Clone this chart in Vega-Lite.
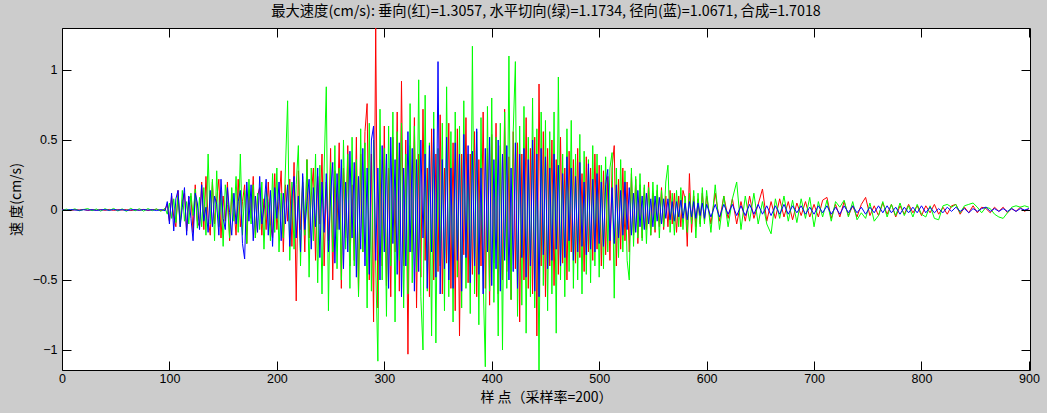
{
"$schema": "https://vega.github.io/schema/vega-lite/v6.json",
"width": 968, "height": 342,
"autosize": "none",
"padding": {"left": 62, "top": 28, "right": 17, "bottom": 43},
"background": "#cccccc",
"config": {
  "view": {"fill": "white", "stroke": "black", "strokeWidth": 1},
  "axis": {"grid": false, "domain": false, "offset": -9, "tickColor": "black", "tickSize": 9, "tickWidth": 1, "tickOpacity": 1,
           "labelColor": "black", "labelFont": "Liberation Sans Narrow, Liberation Sans", "labelFontSize": 12.5,
           "titleColor": "black", "titleFont": "Noto Sans CJK SC", "titleFontSize": 14, "titleFontWeight": "normal"}
},
"title": {"text": "最大速度(cm/s): 垂向(红)=1.3057, 水平切向(绿)=1.1734, 径向(蓝)=1.0671, 合成=1.7018",
          "font": "Liberation Sans Narrow, Noto Sans CJK SC", "fontSize": 14.3, "fontWeight": "normal", "color": "black", "anchor": "middle", "offset": 5},
"data": {"values": [
{"x":0,"r":0.003,"g":-0.004,"b":0.001},{"x":4,"r":0.001,"g":0.006,"b":-0.002},{"x":8,"r":-0.004,"g":-0.002,"b":0.003},{"x":12,"r":0.002,"g":0.008,"b":0.0},
{"x":16,"r":0.0,"g":-0.006,"b":-0.002},{"x":20,"r":0.004,"g":0.003,"b":0.002},{"x":24,"r":-0.003,"g":0.01,"b":-0.001},{"x":28,"r":0.002,"g":-0.005,"b":0.002},
{"x":32,"r":-0.001,"g":0.007,"b":-0.003},{"x":36,"r":0.003,"g":-0.008,"b":0.001},{"x":40,"r":-0.002,"g":0.009,"b":0.002},{"x":44,"r":0.004,"g":-0.004,"b":-0.002},
{"x":48,"r":-0.003,"g":0.011,"b":0.003},{"x":52,"r":0.002,"g":-0.007,"b":-0.001},{"x":56,"r":0.0,"g":0.008,"b":0.002},{"x":60,"r":0.003,"g":-0.01,"b":-0.003},
{"x":64,"r":-0.004,"g":0.012,"b":0.001},{"x":68,"r":0.002,"g":-0.006,"b":0.002},{"x":72,"r":-0.001,"g":0.009,"b":-0.002},{"x":76,"r":0.004,"g":-0.008,"b":0.003},
{"x":80,"r":-0.003,"g":0.01,"b":-0.001},{"x":84,"r":0.002,"g":-0.005,"b":0.002},{"x":88,"r":0.005,"g":0.008,"b":-0.004},{"x":92,"r":-0.004,"g":-0.009,"b":0.003},
{"x":96,"r":0.006,"g":0.012,"b":-0.005},
{"x":98,"r":0.04,"g":-0.03,"b":0.06},{"x":100,"r":-0.08,"g":0.05,"b":-0.1},{"x":102,"r":0.1,"g":-0.06,"b":0.12},{"x":104,"r":-0.05,"g":0.08,"b":-0.15},
{"x":106,"r":-0.12,"g":-0.09,"b":0.08},{"x":108,"r":0.14,"g":0.1,"b":0.14},{"x":110,"r":-0.1,"g":-0.12,"b":-0.12},{"x":112,"r":0.06,"g":0.14,"b":0.02},
{"x":114,"r":0.12,"g":-0.08,"b":0.16},{"x":116,"r":-0.15,"g":0.06,"b":-0.18},{"x":118,"r":0.08,"g":-0.1,"b":0.1},{"x":120,"r":0.1,"g":0.12,"b":-0.06},
{"x":122,"r":-0.16,"g":-0.04,"b":-0.22},{"x":124,"r":0.18,"g":0.15,"b":0.12},{"x":126,"r":-0.08,"g":-0.13,"b":0.05},{"x":128,"r":-0.12,"g":0.09,"b":-0.14},
{"x":130,"r":0.2,"g":-0.12,"b":0.18},{"x":132,"r":-0.14,"g":0.16,"b":-0.08},{"x":134,"r":0.24,"g":-0.18,"b":0.02},{"x":136,"r":-0.06,"g":0.4,"b":-0.16},
{"x":138,"r":-0.18,"g":-0.1,"b":0.14},{"x":140,"r":0.2,"g":0.22,"b":-0.12},{"x":142,"r":-0.1,"g":-0.22,"b":0.1},{"x":144,"r":0.08,"g":0.28,"b":0.04},
{"x":146,"r":0.22,"g":-0.12,"b":-0.18},{"x":148,"r":-0.2,"g":0.14,"b":0.22},{"x":150,"r":0.1,"g":-0.26,"b":-0.06},{"x":152,"r":-0.08,"g":0.18,"b":-0.14},
{"x":154,"r":0.2,"g":0.04,"b":0.16},{"x":156,"r":-0.22,"g":-0.2,"b":-0.02},{"x":158,"r":0.12,"g":0.16,"b":-0.18},{"x":160,"r":0.02,"g":-0.08,"b":0.12},
{"x":162,"r":-0.18,"g":0.24,"b":-0.1},{"x":164,"r":0.22,"g":-0.16,"b":0.06},{"x":166,"r":-0.12,"g":0.4,"b":0.14},{"x":168,"r":0.06,"g":-0.18,"b":-0.24},
{"x":170,"r":0.18,"g":0.14,"b":-0.35},{"x":172,"r":-0.24,"g":-0.24,"b":0.2},{"x":174,"r":0.14,"g":0.22,"b":-0.08},{"x":176,"r":-0.06,"g":-0.1,"b":0.18},
{"x":178,"r":0.24,"g":0.18,"b":-0.22},{"x":180,"r":-0.2,"g":-0.2,"b":0.1},{"x":182,"r":0.1,"g":0.12,"b":-0.16},{"x":184,"r":0.16,"g":-0.14,"b":0.24},
{"x":186,"r":-0.18,"g":0.2,"b":-0.1},{"x":188,"r":0.08,"g":-0.28,"b":0.02},{"x":190,"r":-0.14,"g":0.14,"b":0.22},{"x":192,"r":0.2,"g":0.06,"b":-0.18},
{"x":194,"r":-0.1,"g":-0.22,"b":0.14},{"x":196,"r":-0.2,"g":0.26,"b":-0.26},{"x":198,"r":0.26,"g":-0.16,"b":0.16},{"x":200,"r":-0.14,"g":0.3,"b":-0.06},
{"x":202,"r":0.06,"g":-0.3,"b":0.2},{"x":204,"r":0.28,"g":0.12,"b":-0.22},{"x":206,"r":-0.3,"g":-0.2,"b":0.12},{"x":208,"r":0.18,"g":0.3,"b":-0.1},
{"x":210,"r":-0.08,"g":0.78,"b":0.18},{"x":212,"r":0.22,"g":-0.36,"b":-0.26},{"x":214,"r":-0.26,"g":0.2,"b":0.08},{"x":216,"r":0.34,"g":-0.28,"b":0.24},
{"x":218,"r":-0.65,"g":0.18,"b":-0.2},{"x":220,"r":0.28,"g":0.46,"b":0.1},{"x":222,"r":-0.14,"g":-0.4,"b":-0.3},{"x":224,"r":0.2,"g":0.24,"b":0.26},
{"x":226,"r":-0.3,"g":-0.18,"b":-0.14},{"x":228,"r":0.36,"g":0.36,"b":0.06},{"x":230,"r":-0.2,"g":-0.48,"b":0.22},{"x":232,"r":0.1,"g":0.3,"b":-0.28},
{"x":234,"r":0.3,"g":-0.22,"b":0.16},{"x":236,"r":-0.36,"g":0.4,"b":-0.12},{"x":238,"r":0.24,"g":-0.52,"b":0.3},{"x":240,"r":-0.1,"g":0.32,"b":-0.34},
{"x":242,"r":0.4,"g":-0.6,"b":0.2},{"x":244,"r":-0.4,"g":0.3,"b":-0.16},{"x":246,"r":0.2,"g":0.88,"b":0.26},{"x":248,"r":-0.22,"g":-0.72,"b":-0.3},
{"x":250,"r":0.44,"g":0.34,"b":0.1},{"x":252,"r":-0.5,"g":-0.3,"b":0.34},{"x":254,"r":0.28,"g":0.46,"b":-0.38},{"x":256,"r":-0.14,"g":-0.42,"b":0.26},
{"x":258,"r":0.48,"g":0.3,"b":-0.14},{"x":260,"r":-0.56,"g":-0.5,"b":0.36},{"x":262,"r":0.3,"g":0.5,"b":-0.42},{"x":264,"r":-0.2,"g":-0.28,"b":0.2},
{"x":266,"r":0.46,"g":0.4,"b":-0.3},{"x":268,"r":-0.4,"g":-0.56,"b":0.42},{"x":270,"r":0.18,"g":0.52,"b":-0.2},{"x":272,"r":-0.36,"g":-0.4,"b":0.34},
{"x":274,"r":0.52,"g":0.36,"b":-0.48},{"x":276,"r":-0.6,"g":-0.62,"b":0.24},{"x":278,"r":0.4,"g":0.58,"b":-0.28},{"x":280,"r":-0.3,"g":-0.3,"b":0.44},
{"x":282,"r":0.56,"g":0.48,"b":-0.4},{"x":284,"r":0.76,"g":-0.7,"b":0.3},{"x":286,"r":-0.5,"g":0.62,"b":-0.46},{"x":288,"r":0.4,"g":-0.58,"b":0.5},
{"x":290,"r":-0.8,"g":0.5,"b":0.6},{"x":292,"r":1.31,"g":-0.4,"b":-0.36},{"x":294,"r":-0.7,"g":-1.08,"b":0.3},{"x":296,"r":0.36,"g":0.72,"b":-0.5},
{"x":298,"r":-0.4,"g":-0.5,"b":0.46},{"x":300,"r":0.6,"g":0.44,"b":-0.3},{"x":302,"r":-0.54,"g":-0.76,"b":0.4},{"x":304,"r":0.3,"g":0.6,"b":-0.56},
{"x":306,"r":-0.62,"g":-0.4,"b":0.52},{"x":308,"r":0.52,"g":0.7,"b":-0.24},{"x":310,"r":-0.3,"g":-0.8,"b":0.36},{"x":312,"r":0.7,"g":0.56,"b":-0.46},
{"x":314,"r":-0.58,"g":-0.36,"b":0.48},{"x":316,"r":0.92,"g":0.62,"b":-0.62},{"x":318,"r":-0.4,"g":-0.7,"b":0.3},{"x":320,"r":0.5,"g":0.4,"b":-0.4},
{"x":322,"r":-1.03,"g":-0.6,"b":0.56},{"x":324,"r":0.46,"g":0.76,"b":-0.3},{"x":326,"r":-0.3,"g":-0.52,"b":0.44},{"x":328,"r":0.66,"g":0.6,"b":-0.58},
{"x":330,"r":-0.7,"g":-0.44,"b":0.36},{"x":332,"r":0.4,"g":0.93,"b":-0.44},{"x":334,"r":-0.48,"g":-0.62,"b":0.5},{"x":336,"r":0.72,"g":-1.0,"b":-0.2},
{"x":338,"r":-0.36,"g":0.82,"b":0.4},{"x":340,"r":0.3,"g":-0.58,"b":-0.56},{"x":342,"r":-0.62,"g":0.48,"b":0.46},{"x":344,"r":0.58,"g":-0.9,"b":-0.3},
{"x":346,"r":-0.5,"g":0.7,"b":0.58},{"x":348,"r":0.4,"g":-0.95,"b":-0.48},{"x":350,"r":-0.44,"g":0.44,"b":1.06},{"x":352,"r":0.68,"g":-0.4,"b":-0.6},
{"x":354,"r":-0.6,"g":0.62,"b":0.36},{"x":356,"r":0.3,"g":-0.72,"b":-0.42},{"x":358,"r":-0.38,"g":0.88,"b":0.52},{"x":360,"r":0.62,"g":-0.62,"b":-0.5},
{"x":362,"r":-0.56,"g":0.56,"b":0.3},{"x":364,"r":0.48,"g":-0.8,"b":-0.56},{"x":366,"r":-0.72,"g":0.7,"b":0.48},{"x":368,"r":0.58,"g":-0.48,"b":-0.36},
{"x":370,"r":-0.9,"g":0.6,"b":0.4},{"x":372,"r":0.4,"g":-0.7,"b":-0.58},{"x":374,"r":-0.32,"g":0.78,"b":0.54},{"x":376,"r":0.66,"g":-0.56,"b":-0.34},
{"x":378,"r":-0.52,"g":0.4,"b":0.46},{"x":380,"r":0.4,"g":-0.74,"b":-0.52},{"x":382,"r":-0.46,"g":1.17,"b":0.42},{"x":384,"r":0.56,"g":-0.6,"b":-0.4},
{"x":386,"r":-0.62,"g":0.56,"b":0.58},{"x":388,"r":0.36,"g":-0.82,"b":-0.46},{"x":390,"r":-0.4,"g":0.66,"b":0.3},{"x":392,"r":0.7,"g":-0.5,"b":-0.6},
{"x":394,"r":-0.56,"g":-1.12,"b":0.44},{"x":396,"r":0.44,"g":0.74,"b":-0.3},{"x":398,"r":-0.68,"g":-0.58,"b":0.52},{"x":400,"r":0.54,"g":0.8,"b":-0.54},
{"x":402,"r":-0.38,"g":-0.66,"b":0.36},{"x":404,"r":0.62,"g":0.52,"b":-0.42},{"x":406,"r":-0.6,"g":-0.9,"b":0.5},{"x":408,"r":0.46,"g":0.62,"b":-0.58},
{"x":410,"r":-0.5,"g":-1.0,"b":0.4},{"x":412,"r":0.72,"g":0.7,"b":-0.36},{"x":414,"r":-0.44,"g":-0.56,"b":0.46},{"x":416,"r":0.38,"g":1.1,"b":-0.5},
{"x":418,"r":-0.64,"g":-0.64,"b":0.3},{"x":420,"r":0.56,"g":0.56,"b":-0.44},{"x":422,"r":-0.42,"g":1.06,"b":0.48},{"x":424,"r":0.48,"g":-0.76,"b":-0.56},
{"x":426,"r":-0.8,"g":0.6,"b":0.4},{"x":428,"r":0.4,"g":-0.68,"b":-0.34},{"x":430,"r":-0.5,"g":0.74,"b":0.44},{"x":432,"r":0.66,"g":-0.88,"b":-0.48},
{"x":434,"r":-0.56,"g":0.52,"b":0.36},{"x":436,"r":0.44,"g":-0.62,"b":-0.4},{"x":438,"r":-0.6,"g":0.8,"b":0.5},{"x":440,"r":0.52,"g":-0.7,"b":-0.58},
{"x":442,"r":-0.9,"g":0.58,"b":0.4},{"x":444,"r":0.9,"g":-1.17,"b":-0.62},{"x":446,"r":-0.4,"g":0.7,"b":0.44},{"x":448,"r":0.56,"g":-0.54,"b":-0.32},
{"x":450,"r":-0.62,"g":0.64,"b":0.38},{"x":452,"r":0.44,"g":-0.72,"b":-0.42},{"x":454,"r":-0.4,"g":0.56,"b":0.3},{"x":456,"r":0.5,"g":-0.6,"b":-0.36},
{"x":458,"r":-0.54,"g":0.7,"b":0.4},{"x":460,"r":0.36,"g":-0.88,"b":-0.28},{"x":462,"r":-0.46,"g":0.95,"b":0.32},{"x":464,"r":0.52,"g":-0.5,"b":-0.4},
{"x":466,"r":-0.38,"g":0.4,"b":0.26},{"x":468,"r":0.3,"g":-0.62,"b":-0.34},{"x":470,"r":-0.5,"g":0.58,"b":0.38},{"x":472,"r":0.42,"g":-0.44,"b":-0.22},
{"x":474,"r":-0.3,"g":0.64,"b":0.3},{"x":476,"r":0.36,"g":-0.56,"b":-0.36},{"x":478,"r":-0.38,"g":0.4,"b":0.24},{"x":480,"r":0.44,"g":-0.5,"b":-0.3},
{"x":482,"r":-0.34,"g":0.54,"b":0.34},{"x":484,"r":0.26,"g":-0.6,"b":-0.26},{"x":486,"r":-0.44,"g":0.42,"b":0.2},{"x":488,"r":0.38,"g":-0.46,"b":-0.32},
{"x":490,"r":-0.3,"g":0.36,"b":0.33},{"x":492,"r":0.3,"g":-0.52,"b":-0.28},{"x":494,"r":-0.36,"g":0.46,"b":0.22},{"x":496,"r":0.4,"g":-0.4,"b":-0.3},
{"x":498,"r":-0.28,"g":0.4,"b":0.26},{"x":500,"r":0.32,"g":-0.48,"b":-0.24},{"x":502,"r":-0.4,"g":0.32,"b":0.2},{"x":504,"r":0.28,"g":-0.42,"b":-0.26},
{"x":506,"r":-0.32,"g":0.38,"b":0.18},{"x":508,"r":0.24,"g":-0.3,"b":0.29},{"x":510,"r":-0.36,"g":0.3,"b":-0.22},{"x":512,"r":0.3,"g":0.41,"b":0.16},
{"x":514,"r":0.46,"g":-0.63,"b":-0.24},{"x":516,"r":-0.4,"g":0.3,"b":0.18},{"x":518,"r":0.22,"g":-0.34,"b":-0.2},{"x":520,"r":-0.28,"g":0.36,"b":0.14},
{"x":522,"r":0.3,"g":-0.3,"b":-0.18},{"x":524,"r":-0.22,"g":0.28,"b":0.2},{"x":526,"r":0.2,"g":-0.36,"b":-0.14},{"x":528,"r":-0.3,"g":-0.5,"b":0.16},
{"x":530,"r":0.26,"g":0.3,"b":-0.18},{"x":532,"r":-0.18,"g":-0.26,"b":0.12},{"x":534,"r":0.22,"g":0.24,"b":-0.16},{"x":536,"r":-0.24,"g":-0.2,"b":0.14},
{"x":538,"r":0.18,"g":0.26,"b":-0.12},{"x":540,"r":-0.2,"g":-0.22,"b":0.1},{"x":542,"r":0.16,"g":0.18,"b":-0.14},{"x":544,"r":-0.14,"g":-0.24,"b":0.12},
{"x":546,"r":0.2,"g":0.16,"b":-0.1},{"x":548,"r":-0.18,"g":-0.18,"b":0.08},{"x":550,"r":0.12,"g":0.2,"b":-0.12},{"x":552,"r":-0.16,"g":-0.14,"b":0.1},
{"x":554,"r":0.14,"g":0.18,"b":-0.08},{"x":556,"r":-0.12,"g":-0.2,"b":0.09},{"x":558,"r":0.16,"g":0.14,"b":-0.1},{"x":560,"r":-0.14,"g":-0.12,"b":0.08},
{"x":562,"r":0.1,"g":0.2,"b":-0.06},{"x":564,"r":-0.12,"g":0.32,"b":0.08},{"x":566,"r":0.14,"g":-0.16,"b":-0.07},{"x":568,"r":-0.1,"g":0.12,"b":0.06},
{"x":570,"r":0.12,"g":-0.18,"b":-0.08},{"x":572,"r":-0.16,"g":0.14,"b":0.06},{"x":574,"r":0.1,"g":-0.12,"b":-0.05},{"x":576,"r":-0.12,"g":0.16,"b":0.07},
{"x":578,"r":0.14,"g":-0.14,"b":-0.06},{"x":580,"r":0.08,"g":0.1,"b":0.05},{"x":582,"r":-0.26,"g":-0.16,"b":-0.07},{"x":584,"r":0.26,"g":0.12,"b":0.06},
{"x":586,"r":-0.16,"g":-0.1,"b":-0.05},{"x":588,"r":0.1,"g":0.14,"b":0.06},{"x":590,"r":-0.12,"g":-0.2,"b":-0.06},{"x":592,"r":0.08,"g":0.12,"b":0.05},
{"x":594,"r":-0.1,"g":-0.12,"b":-0.04},{"x":596,"r":0.12,"g":0.16,"b":0.05},{"x":598,"r":-0.08,"g":-0.1,"b":-0.06},{"x":600,"r":0.1,"g":0.14,"b":0.04},
{"x":604,"r":-0.1,"g":-0.16,"b":-0.05},{"x":608,"r":0.12,"g":0.18,"b":0.04},{"x":612,"r":-0.08,"g":-0.14,"b":-0.05},{"x":616,"r":0.1,"g":0.1,"b":0.04},
{"x":620,"r":-0.06,"g":-0.12,"b":-0.03},{"x":624,"r":0.08,"g":0.08,"b":0.04},{"x":628,"r":-0.1,"g":0.2,"b":-0.04},{"x":632,"r":0.06,"g":-0.14,"b":0.03},
{"x":636,"r":-0.08,"g":0.1,"b":-0.04},{"x":640,"r":0.1,"g":-0.08,"b":0.04},{"x":644,"r":-0.06,"g":0.12,"b":-0.03},{"x":648,"r":0.04,"g":-0.1,"b":0.04},
{"x":652,"r":0.15,"g":0.06,"b":-0.03},{"x":656,"r":-0.08,"g":-0.1,"b":0.03},{"x":660,"r":0.06,"g":-0.17,"b":-0.04},{"x":664,"r":-0.06,"g":0.08,"b":0.03},
{"x":668,"r":0.08,"g":-0.06,"b":-0.03},{"x":672,"r":-0.05,"g":0.1,"b":0.04},{"x":676,"r":0.06,"g":-0.08,"b":-0.03},{"x":680,"r":-0.07,"g":0.07,"b":0.03},
{"x":684,"r":0.05,"g":-0.09,"b":-0.02},{"x":688,"r":-0.04,"g":0.08,"b":0.03},{"x":692,"r":0.06,"g":-0.06,"b":-0.03},{"x":696,"r":-0.05,"g":0.09,"b":0.02},
{"x":700,"r":0.04,"g":-0.12,"b":-0.03},{"x":704,"r":-0.05,"g":0.06,"b":0.03},{"x":708,"r":0.07,"g":-0.05,"b":-0.02},{"x":712,"r":0.09,"g":0.07,"b":0.03},
{"x":716,"r":-0.06,"g":-0.08,"b":-0.03},{"x":720,"r":0.04,"g":0.06,"b":0.02},{"x":724,"r":-0.05,"g":0.02,"b":-0.03},{"x":728,"r":0.06,"g":0.07,"b":0.03},
{"x":732,"r":-0.04,"g":-0.05,"b":-0.02},{"x":736,"r":0.03,"g":0.06,"b":0.03},{"x":740,"r":-0.05,"g":-0.07,"b":-0.02},{"x":744,"r":0.04,"g":-0.02,"b":0.02},
{"x":748,"r":0.09,"g":-0.06,"b":-0.03},{"x":752,"r":-0.04,"g":0.05,"b":0.02},{"x":756,"r":0.03,"g":-0.08,"b":-0.02},{"x":760,"r":-0.04,"g":-0.04,"b":0.03},
{"x":764,"r":0.05,"g":0.06,"b":-0.02},{"x":768,"r":-0.03,"g":-0.05,"b":0.03},{"x":772,"r":0.04,"g":0.04,"b":-0.02},{"x":776,"r":-0.05,"g":-0.04,"b":0.02},
{"x":780,"r":0.03,"g":0.05,"b":-0.03},{"x":784,"r":-0.03,"g":-0.04,"b":0.02},{"x":788,"r":0.04,"g":0.03,"b":-0.02},{"x":792,"r":-0.02,"g":-0.05,"b":0.02},
{"x":796,"r":0.03,"g":0.04,"b":-0.02},{"x":800,"r":-0.04,"g":-0.03,"b":0.03},{"x":804,"r":0.03,"g":-0.05,"b":-0.02},{"x":808,"r":-0.02,"g":0.03,"b":0.02},
{"x":812,"r":0.04,"g":-0.06,"b":-0.02},{"x":816,"r":-0.03,"g":-0.07,"b":0.01},{"x":820,"r":0.02,"g":0.03,"b":-0.02},{"x":824,"r":-0.03,"g":0.04,"b":0.02},
{"x":828,"r":0.03,"g":0.02,"b":-0.01},{"x":832,"r":0.04,"g":0.04,"b":0.02},{"x":836,"r":-0.03,"g":-0.02,"b":-0.01},{"x":840,"r":0.02,"g":0.03,"b":0.01},
{"x":844,"r":-0.02,"g":0.04,"b":-0.02},{"x":848,"r":0.03,"g":0.05,"b":0.01},{"x":852,"r":-0.02,"g":0.02,"b":-0.01},{"x":856,"r":0.02,"g":-0.02,"b":0.01},
{"x":860,"r":0.01,"g":0.02,"b":0.02},{"x":864,"r":-0.02,"g":0.01,"b":-0.01},{"x":868,"r":0.02,"g":-0.03,"b":0.01},{"x":872,"r":-0.01,"g":-0.05,"b":-0.01},
{"x":876,"r":0.02,"g":-0.06,"b":0.01},{"x":880,"r":-0.02,"g":-0.02,"b":-0.01},{"x":884,"r":0.01,"g":0.02,"b":0.01},{"x":888,"r":-0.01,"g":0.03,"b":-0.01},
{"x":892,"r":0.02,"g":0.02,"b":0.01},{"x":896,"r":-0.01,"g":0.03,"b":0.0},{"x":900,"r":0.01,"g":0.02,"b":0.01}
]},
"transform": [{"fold": ["r", "g", "b"], "as": ["series", "v"]}],
"layer": [
  {
    "mark": {"type": "line", "strokeWidth": 1, "clip": true, "interpolate": "linear"},
    "encoding": {
      "x": {"field": "x", "type": "quantitative", "scale": {"domain": [0, 901], "nice": false, "zero": false},
            "axis": {"orient": "bottom", "zindex": 2, "values": [0,100,200,300,400,500,600,700,800,900], "labelPadding": 2, "titlePadding": 6,
                     "title": "样 点（采样率=200）", "labelFlush": false}},
      "y": {"field": "v", "type": "quantitative", "scale": {"domain": [-1.143, 1.3], "nice": false, "zero": false},
            "axis": {"orient": "left", "zindex": 2, "values": [-1,-0.5,0,0.5,1], "format": "~g", "labelPadding": 5, "titlePadding": 9,
                     "title": "速 度(cm/s)", "labelFlush": false}},
      "color": {"field": "series", "type": "nominal",
                "scale": {"domain": ["r", "g", "b"], "range": ["#ff0000", "#00ff00", "#0000ff"]}, "legend": null},
      "order": {"field": "x", "type": "quantitative"}
    }
  },
  {
    "mark": {"type": "point", "opacity": 0},
    "encoding": {
      "x": {"field": "x", "type": "quantitative",
            "axis": {"orient": "top", "zindex": 2, "values": [0,100,200,300,400,500,600,700,800,900], "labels": false, "title": null}},
      "y": {"field": "v", "type": "quantitative",
            "axis": {"orient": "right", "zindex": 2, "values": [-1,-0.5,0,0.5,1], "labels": false, "title": null}}
    }
  }
],
"resolve": {"axis": {"x": "independent", "y": "independent"}}
}
